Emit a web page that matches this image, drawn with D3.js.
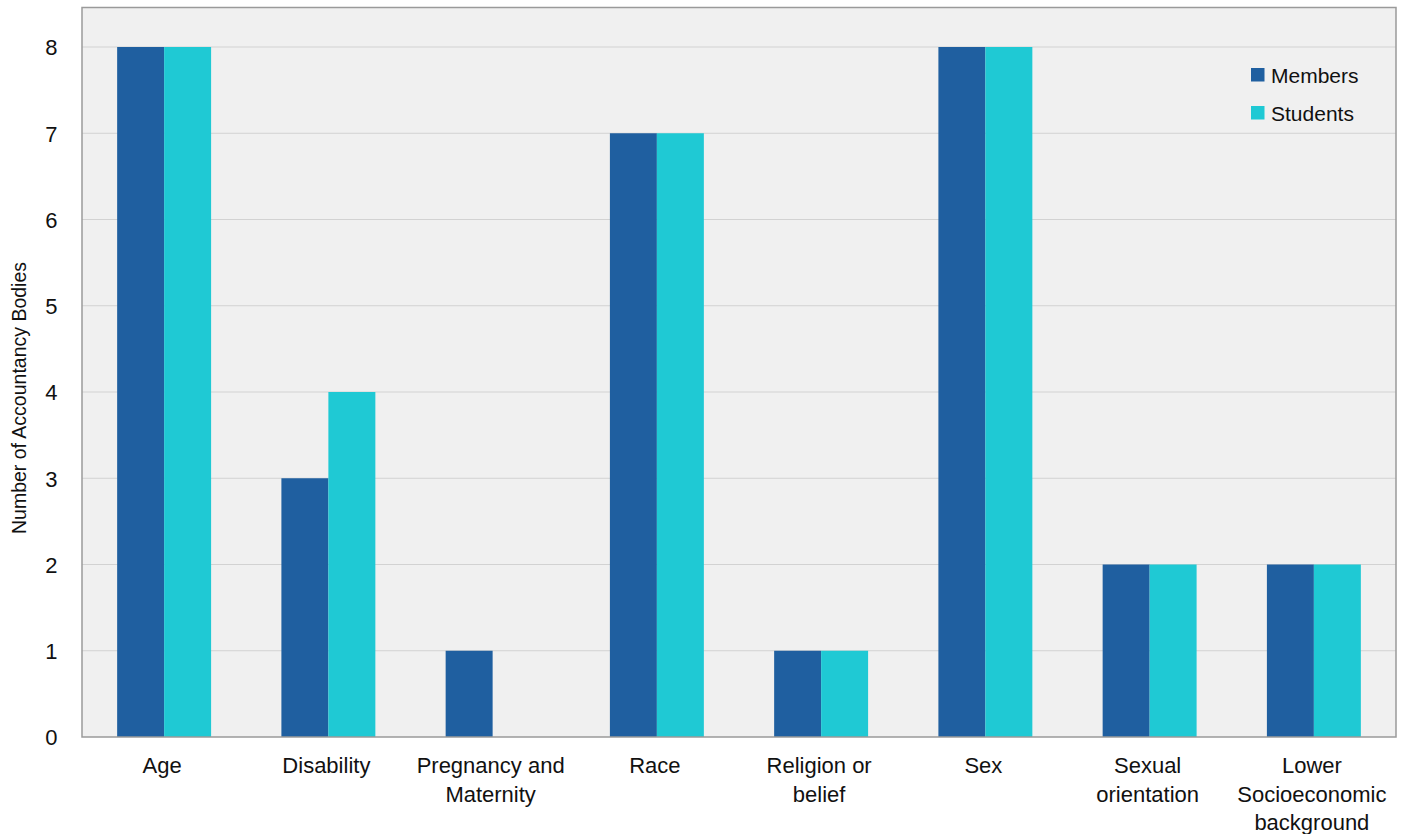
<!DOCTYPE html>
<html><head><meta charset="utf-8">
<script src="https://cdn.jsdelivr.net/npm/d3@7"></script>
<style>
body{margin:0;background:#fff;}
text{font-family:"Liberation Sans",Arial,Helvetica,sans-serif;fill:#111;}
</style></head>
<body><svg id="c" width="1408" height="834"></svg>
<script>
const categories = [["Age"],["Disability"],["Pregnancy and","Maternity"],["Race"],["Religion or","belief"],["Sex"],["Sexual","orientation"],["Lower","Socioeconomic","background"]];
const seriesNames = ["Members","Students"];
const members = [8,3,1,7,1,8,2,2];
const students = [8,4,0,7,1,8,2,2];
const yTicks = [0,1,2,3,4,5,6,7,8];
const colors = ["#1f5fa0","#1fc9d4"];

const svg = d3.select("#c");
const L=82, R=1396, T=7.5, B=737;
const y = d3.scaleLinear().domain([0,8]).range([B,47]);
const x = d3.scaleBand().domain(d3.range(categories.length)).range([L,R]).paddingInner(0.428).paddingOuter(0.214);
const xs = d3.scaleBand().domain([0,1]).range([0,x.bandwidth()]);

svg.append("rect").attr("x",L).attr("y",T).attr("width",R-L).attr("height",B-T).attr("fill","#f0f0f0");
svg.append("g").selectAll("line").data(yTicks.filter(d=>d>0)).join("line")
  .attr("x1",L).attr("x2",R).attr("y1",d=>y(d)).attr("y2",d=>y(d))
  .attr("stroke","#d2d2d2").attr("stroke-width",1.2);

const data = [members, students];
const g = svg.append("g");
categories.forEach((c,i)=>{
  data.forEach((s,j)=>{
    if(s[i]>0) g.append("rect").attr("x",x(i)+xs(j)).attr("width",xs.bandwidth())
      .attr("y",y(s[i])).attr("height",y(0)-y(s[i])).attr("fill",colors[j]);
  });
});

svg.append("rect").attr("x",L).attr("y",T).attr("width",R-L).attr("height",B-T)
  .attr("fill","none").attr("stroke","#9a9a9a").attr("stroke-width",1.5);

// y axis labels
const ya = d3.axisLeft(y).tickValues(yTicks).tickSize(0).tickPadding(0);
const yg = svg.append("g").attr("transform",`translate(57.5,0)`).call(ya);
yg.select(".domain").remove();
yg.selectAll("text").style("font-size","22px").attr("fill","#111").attr("dy","0.36em").attr("text-anchor","end");

// x labels
categories.forEach((c,i)=>{
  const cx = x(i)+x.bandwidth()/2 - 2;
  const t = svg.append("text").attr("text-anchor","middle").style("font-size","22px")
    .attr("x",cx).attr("y",773);
  c.forEach((ln,k)=>t.append("tspan").attr("x",cx).attr("dy",k?28.5:0).text(ln));
});

svg.append("text").attr("transform",`translate(26,398) rotate(-90)`).attr("text-anchor","middle")
  .style("font-size","19.5px").text("Number of Accountancy Bodies");

// legend
const lg = svg.append("g");
seriesNames.forEach((n,j)=>{
  lg.append("rect").attr("x",1251).attr("y",68+j*38).attr("width",13.5).attr("height",13.5).attr("fill",colors[j]);
  lg.append("text").attr("x",1271).attr("y",75+j*38).attr("dy","0.36em").style("font-size","21px").text(n);
});
</script></body></html>
